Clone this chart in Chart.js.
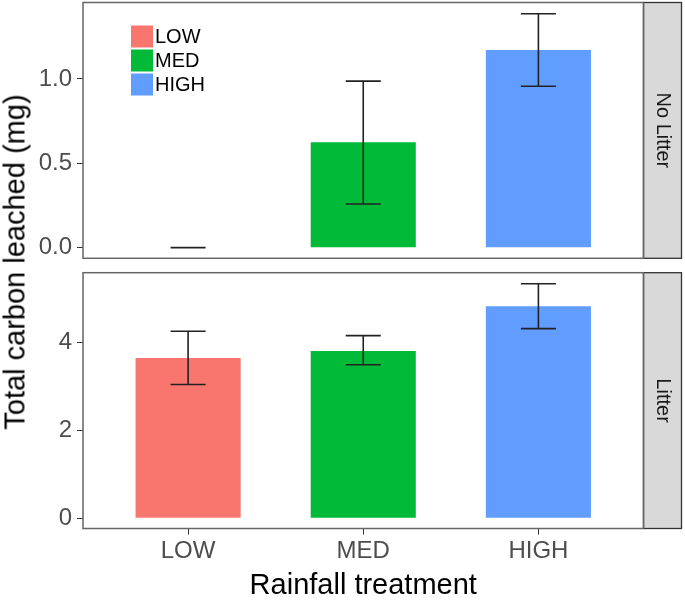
<!DOCTYPE html>
<html>
<head>
<meta charset="utf-8">
<script src="https://cdn.jsdelivr.net/npm/chart.js@4"></script>
<style>
  body { margin: 0; background: #fff; }
  #wrap { position: relative; width: 685px; height: 600px; font-family: "Liberation Sans", Arial, sans-serif; }
  .box { position: absolute; left: 0; width: 685px; }
  #topBox { top: 0; height: 262px; }
  #botBox { top: 262px; height: 338px; }
  #ytitle { position: absolute; left: 15px; top: 261.5px; transform: translate(-50%, -50%) rotate(-90deg);
            font-size: 29px; white-space: nowrap; color: #000; }
</style>
</head>
<body>
<div id="wrap">
  <div class="box" id="topBox"><canvas id="topChart"></canvas></div>
  <div class="box" id="botBox"><canvas id="botChart"></canvas></div>
  <div id="ytitle">Total carbon leached (mg)</div>
</div>
<script>
// --------------------------
// data
// --------------------------
const categories = ['LOW', 'MED', 'HIGH'];
const xPos = [1, 2, 3];
const colors = ['#F8766D', '#00BA38', '#619CFF'];

// No Litter panel
const noLitterMean = [0, 0.625, 1.172];
const noLitterLow  = [0, 0.259, 0.957];
const noLitterHigh = [0, 0.987, 1.386];
const noLitterTicks = [0, 0.5, 1.0];

// Litter panel
const litterMean = [3.64, 3.80, 4.82];
const litterLow  = [3.04, 3.49, 4.31];
const litterHigh = [4.25, 4.15, 5.33];
const litterTicks = [0, 2, 4];

const FONT = '"Liberation Sans", Arial, sans-serif';
Chart.defaults.font.family = FONT;

// error bars, panel border, strip (and legend for the top panel)
function panelPlugin(stripText, low, high, showLegend) {
  return {
    id: 'panel',
    afterDatasetsDraw(chart) {
      const ctx = chart.ctx, x = chart.scales.x, y = chart.scales.y;
      ctx.save();
      ctx.strokeStyle = '#222';
      ctx.lineWidth = 1.6;
      xPos.forEach((v, i) => {
        const cx = x.getPixelForValue(v);
        const hw = x.getPixelForValue(v + 0.1) - cx;
        const yl = y.getPixelForValue(low[i]);
        const yh = y.getPixelForValue(high[i]);
        ctx.beginPath();
        ctx.moveTo(cx, yl); ctx.lineTo(cx, yh);
        ctx.moveTo(cx - hw, yl); ctx.lineTo(cx + hw, yl);
        ctx.moveTo(cx - hw, yh); ctx.lineTo(cx + hw, yh);
        ctx.stroke();
      });
      ctx.restore();
    },
    afterDraw(chart) {
      const ctx = chart.ctx, a = chart.chartArea;
      ctx.save();
      ctx.fillStyle = '#d9d9d9';
      ctx.fillRect(a.right, a.top, 38, a.bottom - a.top);
      ctx.strokeStyle = '#333';
      ctx.lineWidth = 1.3;
      ctx.strokeRect(a.right, a.top, 38, a.bottom - a.top);
      ctx.strokeStyle = '#666';
      ctx.lineWidth = 1.5;
      ctx.strokeRect(a.left, a.top, a.right - a.left, a.bottom - a.top);

      if (showLegend) {
        ctx.font = '20px ' + FONT;
        ctx.textAlign = 'left';
        ctx.textBaseline = 'middle';
        categories.forEach((c, i) => {
          const kx = a.left + 48, ky = a.top + 23 + i * 24;
          ctx.fillStyle = colors[i];
          ctx.fillRect(kx, ky, 22, 22);
          ctx.fillStyle = '#000';
          ctx.fillText(c, kx + 24, ky + 11.5);
        });
      }

      ctx.translate(a.right + 19, (a.top + a.bottom) / 2);
      ctx.rotate(Math.PI / 2);
      ctx.fillStyle = '#1a1a1a';
      ctx.font = '20px ' + FONT;
      ctx.textAlign = 'center';
      ctx.textBaseline = 'middle';
      ctx.fillText(stripText, 0, 0);
      ctx.restore();
    }
  };
}

function makePanel(id, mean, low, high, ticks, yMin, yMax, fmt, strip, isTop) {
  const xScale = {
    type: 'linear', min: 0.4, max: 3.6, bounds: 'data', offset: false,
    afterBuildTicks: s => { s.ticks = xPos.map(v => ({ value: v })); },
    border: { display: false },
    grid: { offset: false, drawOnChartArea: false, drawTicks: true, tickLength: 6, tickColor: '#333' }
  };
  if (isTop) {
    xScale.display = false;
  } else {
    xScale.ticks = {
      callback: v => categories[xPos.indexOf(v)],
      color: '#4d4d4d', font: { size: 24 }, padding: 2, autoSkip: false, maxRotation: 0
    };
    xScale.title = {
      display: true, text: 'Rainfall treatment', color: '#000',
      font: { size: 29, lineHeight: 0.95 }, padding: { top: 0, bottom: 0 }
    };
    xScale.afterFit = s => { s.height = 71.5; s.paddingLeft = 0; s.paddingRight = 0; };
  }

  return new Chart(document.getElementById(id), {
    type: 'bar',
    data: {
      datasets: [{
        data: xPos.map((x, i) => ({ x: x, y: mean[i] })),
        backgroundColor: colors,
        borderWidth: 0,
        barPercentage: 0.6,
        categoryPercentage: 1
      }]
    },
    options: {
      responsive: true,
      maintainAspectRatio: false,
      animation: false,
      layout: { padding: isTop ? { top: 2.5, right: 41.5, bottom: 3.7, left: 0 }
                               : { top: 10.7, right: 41.5, bottom: 0, left: 0 } },
      plugins: { legend: { display: false }, tooltip: { enabled: false } },
      scales: {
        x: xScale,
        y: {
          min: yMin, max: yMax, bounds: 'data',
          afterBuildTicks: s => { s.ticks = ticks.map(v => ({ value: v })); },
          ticks: { callback: fmt, color: '#4d4d4d', font: { size: 24 }, padding: 5 },
          grid: { drawOnChartArea: false, drawTicks: true, tickLength: 6, tickColor: '#333' },
          border: { display: false },
          afterFit: s => { s.width = 83; s.paddingTop = 0; s.paddingBottom = 0; }
        }
      }
    },
    plugins: [panelPlugin(strip, low, high, isTop)]
  });
}

makePanel('topChart', noLitterMean, noLitterLow, noLitterHigh, noLitterTicks,
          -0.063, 1.453, v => v.toFixed(1), 'No Litter', true);
makePanel('botChart', litterMean, litterLow, litterHigh, litterTicks,
          -0.23, 5.58, v => String(v), 'Litter', false);
</script>
</body>
</html>
